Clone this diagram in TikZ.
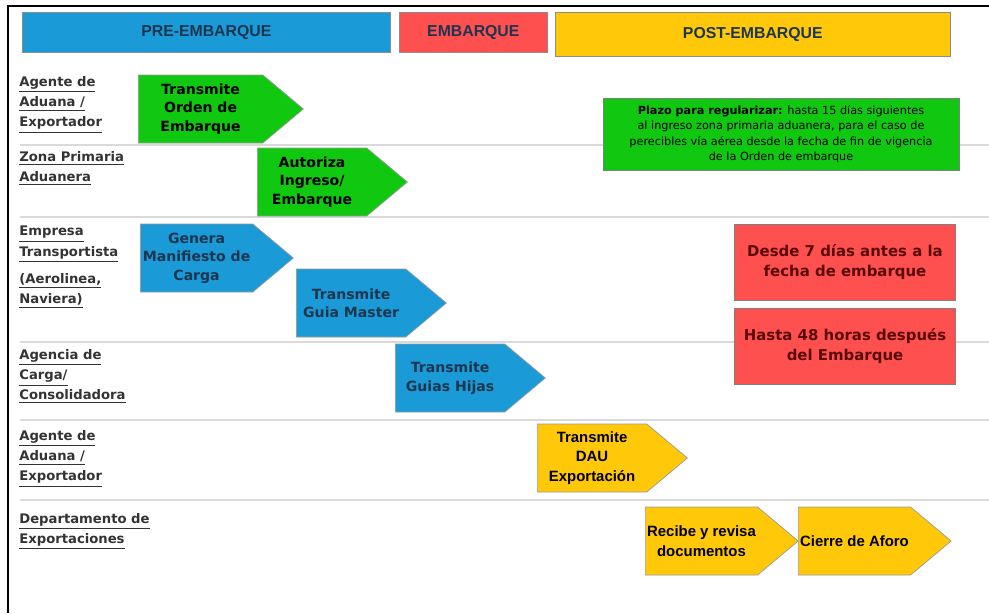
\documentclass[tikz,border=0pt]{standalone}
\usepackage{fontspec}
\setmainfont{DejaVu Sans}
\newfontfamily\hdfont{Liberation Sans}
\usepackage{tikz}
\usetikzlibrary{shapes.symbols}

\definecolor{hdblue}{HTML}{1A9AD6}
\definecolor{hdred}{HTML}{FF5050}
\definecolor{hdyellow}{HTML}{FFC90A}
\definecolor{stgreen}{HTML}{10C810}
\definecolor{txtnavy}{HTML}{1E3550}
\definecolor{txtred}{HTML}{5A0A0A}
\definecolor{sepgray}{HTML}{DADADA}

\begin{document}
\begin{tikzpicture}[
        x=0.02cm, y=-0.02cm,
        % cabeceras de las fases
        phase/.style={
            draw=black!45,
            anchor=north west,
            minimum height=0.8cm,
            font=\hdfont\bfseries\fontsize{9}{10}\selectfont,
            text=txtnavy
        },
        % etiquetas de cada carril
        lane/.style={
            anchor=north west,
            align=left,
            inner sep=0pt,
            text=black!80,
            font=\bfseries\fontsize{7.5}{11.5}\selectfont
        },
        % flechas de actividad
        act/.style={
            signal, signal to=east, signal pointer angle=80,
            draw=black!40,
            anchor=west,
            minimum width=3cm,
            minimum height=1.36cm,
            inner sep=1pt,
            align=center,
            font=\bfseries\fontsize{8}{10.5}\selectfont
        },
        % recuadros de plazos
        note/.style={
            draw=black!50,
            align=center,
            inner sep=2pt
        },
        sep/.style={sepgray, line width=1.2pt}
    ]

    \useasboundingbox (0,0) rectangle (989,613);
    \draw[line width=1.3pt] (8,613) -- (8,6) -- (989,6);

    % separadores
    \foreach \yy in {145,217,342,420,500}
        \draw[sep] (20,\yy) -- (989,\yy);

    % fases
    \node[phase, fill=hdblue, minimum width=7.36cm] (pre) at (22,12) {PRE-EMBARQUE};
    \node[phase, fill=hdred, minimum width=2.96cm] (emb) at (399,12) {EMBARQUE};
    \node[phase, fill=hdyellow, minimum width=7.9cm, minimum height=0.88cm] (post) at (555,12) {POST-EMBARQUE};

    % carriles
    \node[lane] (agente) at (19,76) {\underline{Agente de}\\\underline{Aduana /}\\\underline{Exportador}};
    \node[lane] (zona) at (19,151) {\underline{Zona Primaria}\\\underline{Aduanera}};
    \node[lane] (empresa) at (19,226) {\underline{Empresa}\\\underline{Transportista}\\[4pt]\underline{(Aerolinea,}\\\underline{Naviera)}};
    \node[lane] (agencia) at (19,349) {\underline{Agencia de}\\\underline{Carga/}\\\underline{Consolidadora}};
    \node[lane] (agente2) at (19,430) {\underline{Agente de}\\\underline{Aduana /}\\\underline{Exportador}};
    \node[lane] (depto) at (19,513) {\underline{Departamento de}\\\underline{Exportaciones}};

    % actividades
    \node[act, fill=stgreen, minimum width=3.3cm] (orden) at (138,109) {Transmite\\Orden de\\Embarque};
    \node[act, fill=stgreen] (ingreso) at (257,182) {Autoriza\\Ingreso/\\Embarque};
    \node[act, fill=hdblue, text=txtnavy, minimum width=3.06cm] (manif) at (140,258) {Genera\\Manifiesto de\\Carga};
    \node[act, fill=hdblue, text=txtnavy] (master) at (296,303) {Transmite\\Guia Master};
    \node[act, fill=hdblue, text=txtnavy] (hijas) at (395,378) {Transmite\\Guias Hijas};
    \node[act, fill=hdyellow, font=\hdfont\bfseries\fontsize{8.5}{11}\selectfont] (dau) at (537,458) {Transmite\\DAU\\Exportación};
    \node[act, fill=hdyellow, minimum width=2.94cm, font=\hdfont\bfseries\fontsize{8.5}{11}\selectfont] (revisa) at (645,541) {Recibe y revisa\\documentos};
    \node[act, fill=hdyellow, minimum width=3.04cm, font=\hdfont\bfseries\fontsize{8.5}{11}\selectfont] (aforo) at (798,541) {Cierre de Aforo};

    % plazos
    \node[note, fill=stgreen, minimum width=7.12cm, minimum height=1.44cm,
          font=\fontsize{6.4}{8.8}\selectfont] (plazo) at (781,134)
        {\textbf{Plazo para regularizar:} hasta 15 días siguientes\\al ingreso zona primaria aduanera, para el caso de\\perecibles vía aérea desde la fecha de fin de vigencia\\de la Orden de embarque};
    \node[note, fill=hdred, text=txtred, minimum width=4.42cm, minimum height=1.52cm,
          font=\bfseries\fontsize{8.5}{11.5}\selectfont] (desde) at (845,262) {Desde 7 días antes a la\\fecha de embarque};
    \node[note, fill=hdred, text=txtred, minimum width=4.42cm, minimum height=1.52cm,
          font=\bfseries\fontsize{8.5}{11.5}\selectfont] (hasta) at (845,346) {Hasta 48 horas después\\del Embarque};

\end{tikzpicture}
\end{document}
